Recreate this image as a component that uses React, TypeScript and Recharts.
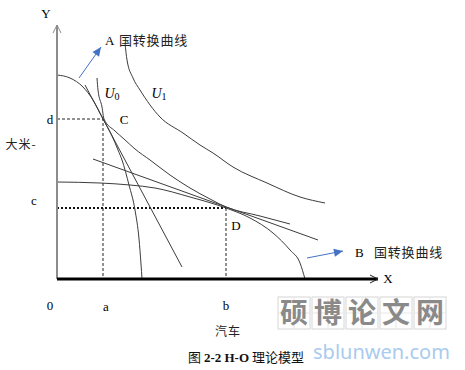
import React from "react";
import { ComposedChart, Line, Scatter, XAxis, YAxis } from "recharts";

const W = 465;
const H = 370;

// Diagram coordinates: x = distance right of origin, y = distance above the X axis
const countryAPPF = [
  { x: 0, y: 204 }, { x: 13, y: 201 }, { x: 26, y: 192 }, { x: 36, y: 179 },
  { x: 46, y: 160 }, { x: 55, y: 143 }, { x: 61, y: 129 }, { x: 65, y: 119 },
  { x: 72, y: 94 }, { x: 78, y: 69 }, { x: 82, y: 40 }, { x: 84, y: 15 }, { x: 85, y: 0 },
];
const countryBPPF = [
  { x: 0, y: 97 }, { x: 43, y: 96 }, { x: 73, y: 94 }, { x: 98, y: 91 },
  { x: 133, y: 82 }, { x: 169, y: 71 }, { x: 193, y: 61 }, { x: 216, y: 46 },
  { x: 233, y: 29 }, { x: 243, y: 16 }, { x: 248, y: 0 },
];
const indifferenceU0 = [
  { x: 40, y: 201 }, { x: 41, y: 189 }, { x: 45, y: 172 }, { x: 47, y: 160 },
  { x: 58, y: 148 }, { x: 67, y: 140 }, { x: 78, y: 130 }, { x: 93, y: 119 },
  { x: 113, y: 104 }, { x: 133, y: 91 }, { x: 153, y: 80 }, { x: 169, y: 72 },
  { x: 203, y: 63 }, { x: 233, y: 55 },
];
const indifferenceU1 = [
  { x: 68, y: 236 }, { x: 70, y: 219 }, { x: 76, y: 201 }, { x: 83, y: 189 },
  { x: 103, y: 162 }, { x: 126, y: 146 }, { x: 143, y: 134 }, { x: 156, y: 126 },
  { x: 176, y: 112 }, { x: 210, y: 96 }, { x: 243, y: 82 }, { x: 268, y: 76 },
];
const priceLineA = [{ x: 28, y: 194 }, { x: 125, y: 12 }];
const priceLineB = [{ x: 36, y: 120 }, { x: 261, y: 39 }];

const pointC = { x: 46, y: 160 };
const pointD = { x: 169, y: 71 };

const guideC = [{ x: 0, y: pointC.y }, { x: pointC.x, y: pointC.y }, { x: pointC.x, y: 0 }];
const guideDHoriz = [{ x: 0, y: pointD.y }, { x: pointD.x, y: pointD.y }];
const guideDVert = [{ x: pointD.x, y: pointD.y }, { x: pointD.x, y: 0 }];

const xAxisLine = [{ x: 0, y: 0 }, { x: 321, y: 0 }];
const yAxisLine = [{ x: 0, y: 0 }, { x: 0, y: 254 }];
const xAxisHead = [{ x: 313, y: 4 }, { x: 321, y: 0 }, { x: 313, y: -4 }];
const yAxisHead = [{ x: -4, y: 246 }, { x: 0, y: 254 }, { x: 4, y: 246 }];

const arrowA = [{ x: 22, y: 201 }, { x: 44, y: 232 }];
const arrowB = [{ x: 250, y: 21 }, { x: 286, y: 28 }];

const tickLabels = [
  { x: -7, y: -26, text: "0", kind: "serif" },
  { x: 49, y: -27, text: "a", kind: "serif" },
  { x: 169, y: -26, text: "b", kind: "serif" },
  { x: -7, y: 160, text: "d", kind: "serif" },
  { x: -23, y: 79, text: "c", kind: "serif" },
];
const annotations = [
  { x: -11, y: 266, text: "Y", kind: "serif" },
  { x: 331, y: 1, text: "X", kind: "serif" },
  { x: -36, y: 134, text: "大米-", kind: "cjk" },
  { x: 171, y: -53, text: "汽车", kind: "cjk" },
  { x: 67, y: 160, text: "C", kind: "serif" },
  { x: 179, y: 54, text: "D", kind: "serif" },
  { x: 55, y: 186, text: "0", kind: "u" },
  { x: 102, y: 186, text: "1", kind: "u" },
  { x: 48, y: 239, text: "A", kind: "serifStart" },
  { x: 62, y: 239, text: "国转换曲线", kind: "cjkStart" },
  { x: 298, y: 27, text: "B", kind: "serifStart" },
  { x: 317, y: 27, text: "国转换曲线", kind: "cjkStart" },
  { x: 189, y: -78, text: "", kind: "caption" },
  { x: 305, y: -34, text: "硕博论文网", kind: "watermark" },
  { x: 256, y: -73, text: "sblunwen.com", kind: "watermarkUrl" },
];

const SERIF = "'Liberation Serif', 'Times New Roman', serif";
const CJK = "'Noto Sans CJK SC', 'Noto Sans', sans-serif";
const CURVE = "#3c3c3c";
const BLUE = "#4472c4";

function headAngle(seg: { x: number; y: number }[]) {
  const a = seg[0];
  const b = seg[seg.length - 1];
  return (Math.atan2(-(b.y - a.y), b.x - a.x) * 180) / Math.PI;
}
const arrowHeads = [
  { x: arrowA[1].x, y: arrowA[1].y, angle: headAngle(arrowA) },
  { x: arrowB[1].x, y: arrowB[1].y, angle: headAngle(arrowB) },
];

const renderHead = (props: any) => {
  const { cx, cy } = props;
  const p = props.payload ?? props;
  return (
    <polygon
      points="0,0 -9,-4 -9,4"
      fill={BLUE}
      transform={`translate(${cx},${cy}) rotate(${p.angle})`}
    />
  );
};

const renderLabel = (props: any) => {
  const { cx, cy } = props;
  const p = props.payload ?? props;
  const t = p.text;
  switch (p.kind) {
    case "serif":
      return (
        <text x={cx} y={cy} dy="0.35em" textAnchor="middle" fontFamily={SERIF} fontSize={13} fill="#000">
          {t}
        </text>
      );
    case "serifStart":
      return (
        <text x={cx} y={cy} dy="0.35em" textAnchor="start" fontFamily={SERIF} fontSize={13} fill="#000">
          {t}
        </text>
      );
    case "cjk":
      return (
        <text x={cx} y={cy} dy="0.35em" textAnchor="middle" fontFamily={CJK} fontSize={12} letterSpacing={1} fill="#222">
          {t}
        </text>
      );
    case "cjkStart":
      return (
        <text x={cx} y={cy} dy="0.35em" textAnchor="start" fontFamily={CJK} fontSize={13} letterSpacing={0.8} fill="#222">
          {t}
        </text>
      );
    case "u":
      return (
        <text x={cx} y={cy} dy="0.35em" textAnchor="middle" fontFamily={SERIF} fontSize={14} fill="#000">
          <tspan fontStyle="italic">U</tspan>
          <tspan fontSize={10} dy={2}>{t}</tspan>
        </text>
      );
    case "caption":
      return (
        <text x={cx} y={cy} dy="0.35em" textAnchor="middle" fontSize={13} fill="#111">
          <tspan fontFamily={CJK}>图 </tspan>
          <tspan fontFamily={SERIF} fontWeight="bold">2-2 H-O</tspan>
          <tspan fontFamily={CJK}> 理论模型</tspan>
        </text>
      );
    case "watermark": {
      const chars = Array.from(t);
      const bw = 34;
      const x0 = cx - (chars.length * bw) / 2;
      return (
        <g>
          {chars.map((c, i) => (
            <g key={i}>
              <rect x={x0 + i * bw + 1} y={cy - 16} width={bw - 2} height={32} fill="none" stroke="#d6d6d6" strokeWidth={1} />
              <line x1={x0 + i * bw + bw / 2} y1={cy - 16} x2={x0 + i * bw + bw / 2} y2={cy + 16} stroke="#e6e6e6" />
              <line x1={x0 + i * bw + 1} y1={cy} x2={x0 + i * bw + bw - 1} y2={cy} stroke="#e6e6e6" />
              <text x={x0 + i * bw + bw / 2} y={cy} dy="0.36em" textAnchor="middle" fontFamily={CJK} fontWeight="bold" fontSize={28} fill="#8a8a8a">
                {c}
              </text>
            </g>
          ))}
        </g>
      );
    }
    case "watermarkUrl":
      return (
        <text x={cx} y={cy} dy="0.35em" textAnchor="start" fontFamily="'Noto Sans', sans-serif" fontSize={20} fill="#a9cbee">
          {t}
        </text>
      );
    default:
      return <g />;
  }
};

const thin = { dot: false, activeDot: false, isAnimationActive: false, legendType: "none" as const };

export default function App() {
  return (
    <div style={{ position: "absolute", left: 0, top: 0, width: W, height: H, background: "#fff" }}>
      <ComposedChart width={W} height={H} margin={{ top: 0, right: 0, bottom: 0, left: 0 }}>
        <XAxis type="number" dataKey="x" domain={[-57, 408]} hide allowDataOverflow />
        <YAxis type="number" dataKey="y" domain={[-91, 279]} hide allowDataOverflow />

        <Line {...thin} data={guideC} dataKey="y" type="linear" stroke="#222" strokeWidth={1} strokeDasharray="3 2" />
        <Line {...thin} data={guideDHoriz} dataKey="y" type="linear" stroke="#111" strokeWidth={2.2} strokeDasharray="2 2" />
        <Line {...thin} data={guideDVert} dataKey="y" type="linear" stroke="#222" strokeWidth={1} strokeDasharray="3 2" />

        <Line {...thin} data={countryAPPF} dataKey="y" type="monotone" stroke={CURVE} strokeWidth={1} />
        <Line {...thin} data={countryBPPF} dataKey="y" type="monotone" stroke={CURVE} strokeWidth={1} />
        <Line {...thin} data={indifferenceU0} dataKey="y" type="monotone" stroke={CURVE} strokeWidth={1} />
        <Line {...thin} data={indifferenceU1} dataKey="y" type="monotone" stroke={CURVE} strokeWidth={1} />
        <Line {...thin} data={priceLineA} dataKey="y" type="linear" stroke={CURVE} strokeWidth={1} />
        <Line {...thin} data={priceLineB} dataKey="y" type="linear" stroke={CURVE} strokeWidth={1} />

        <Line {...thin} data={yAxisLine} dataKey="y" type="linear" stroke="#8c8c8c" strokeWidth={2} />
        <Line {...thin} data={yAxisHead} dataKey="y" type="linear" stroke="#8c8c8c" strokeWidth={1} />
        <Line {...thin} data={xAxisLine} dataKey="y" type="linear" stroke="#000" strokeWidth={3} />
        <Line {...thin} data={xAxisHead} dataKey="y" type="linear" stroke="#222" strokeWidth={1} />

        <Line {...thin} data={arrowA} dataKey="y" type="linear" stroke={BLUE} strokeWidth={1} />
        <Line {...thin} data={arrowB} dataKey="y" type="linear" stroke={BLUE} strokeWidth={1} />
        <Scatter data={arrowHeads} shape={renderHead} fill={BLUE} isAnimationActive={false} legendType="none" />

        <Scatter data={tickLabels} shape={renderLabel} fill="#000" isAnimationActive={false} legendType="none" />
        <Scatter data={annotations} shape={renderLabel} fill="#000" isAnimationActive={false} legendType="none" />
      </ComposedChart>
    </div>
  );
}
